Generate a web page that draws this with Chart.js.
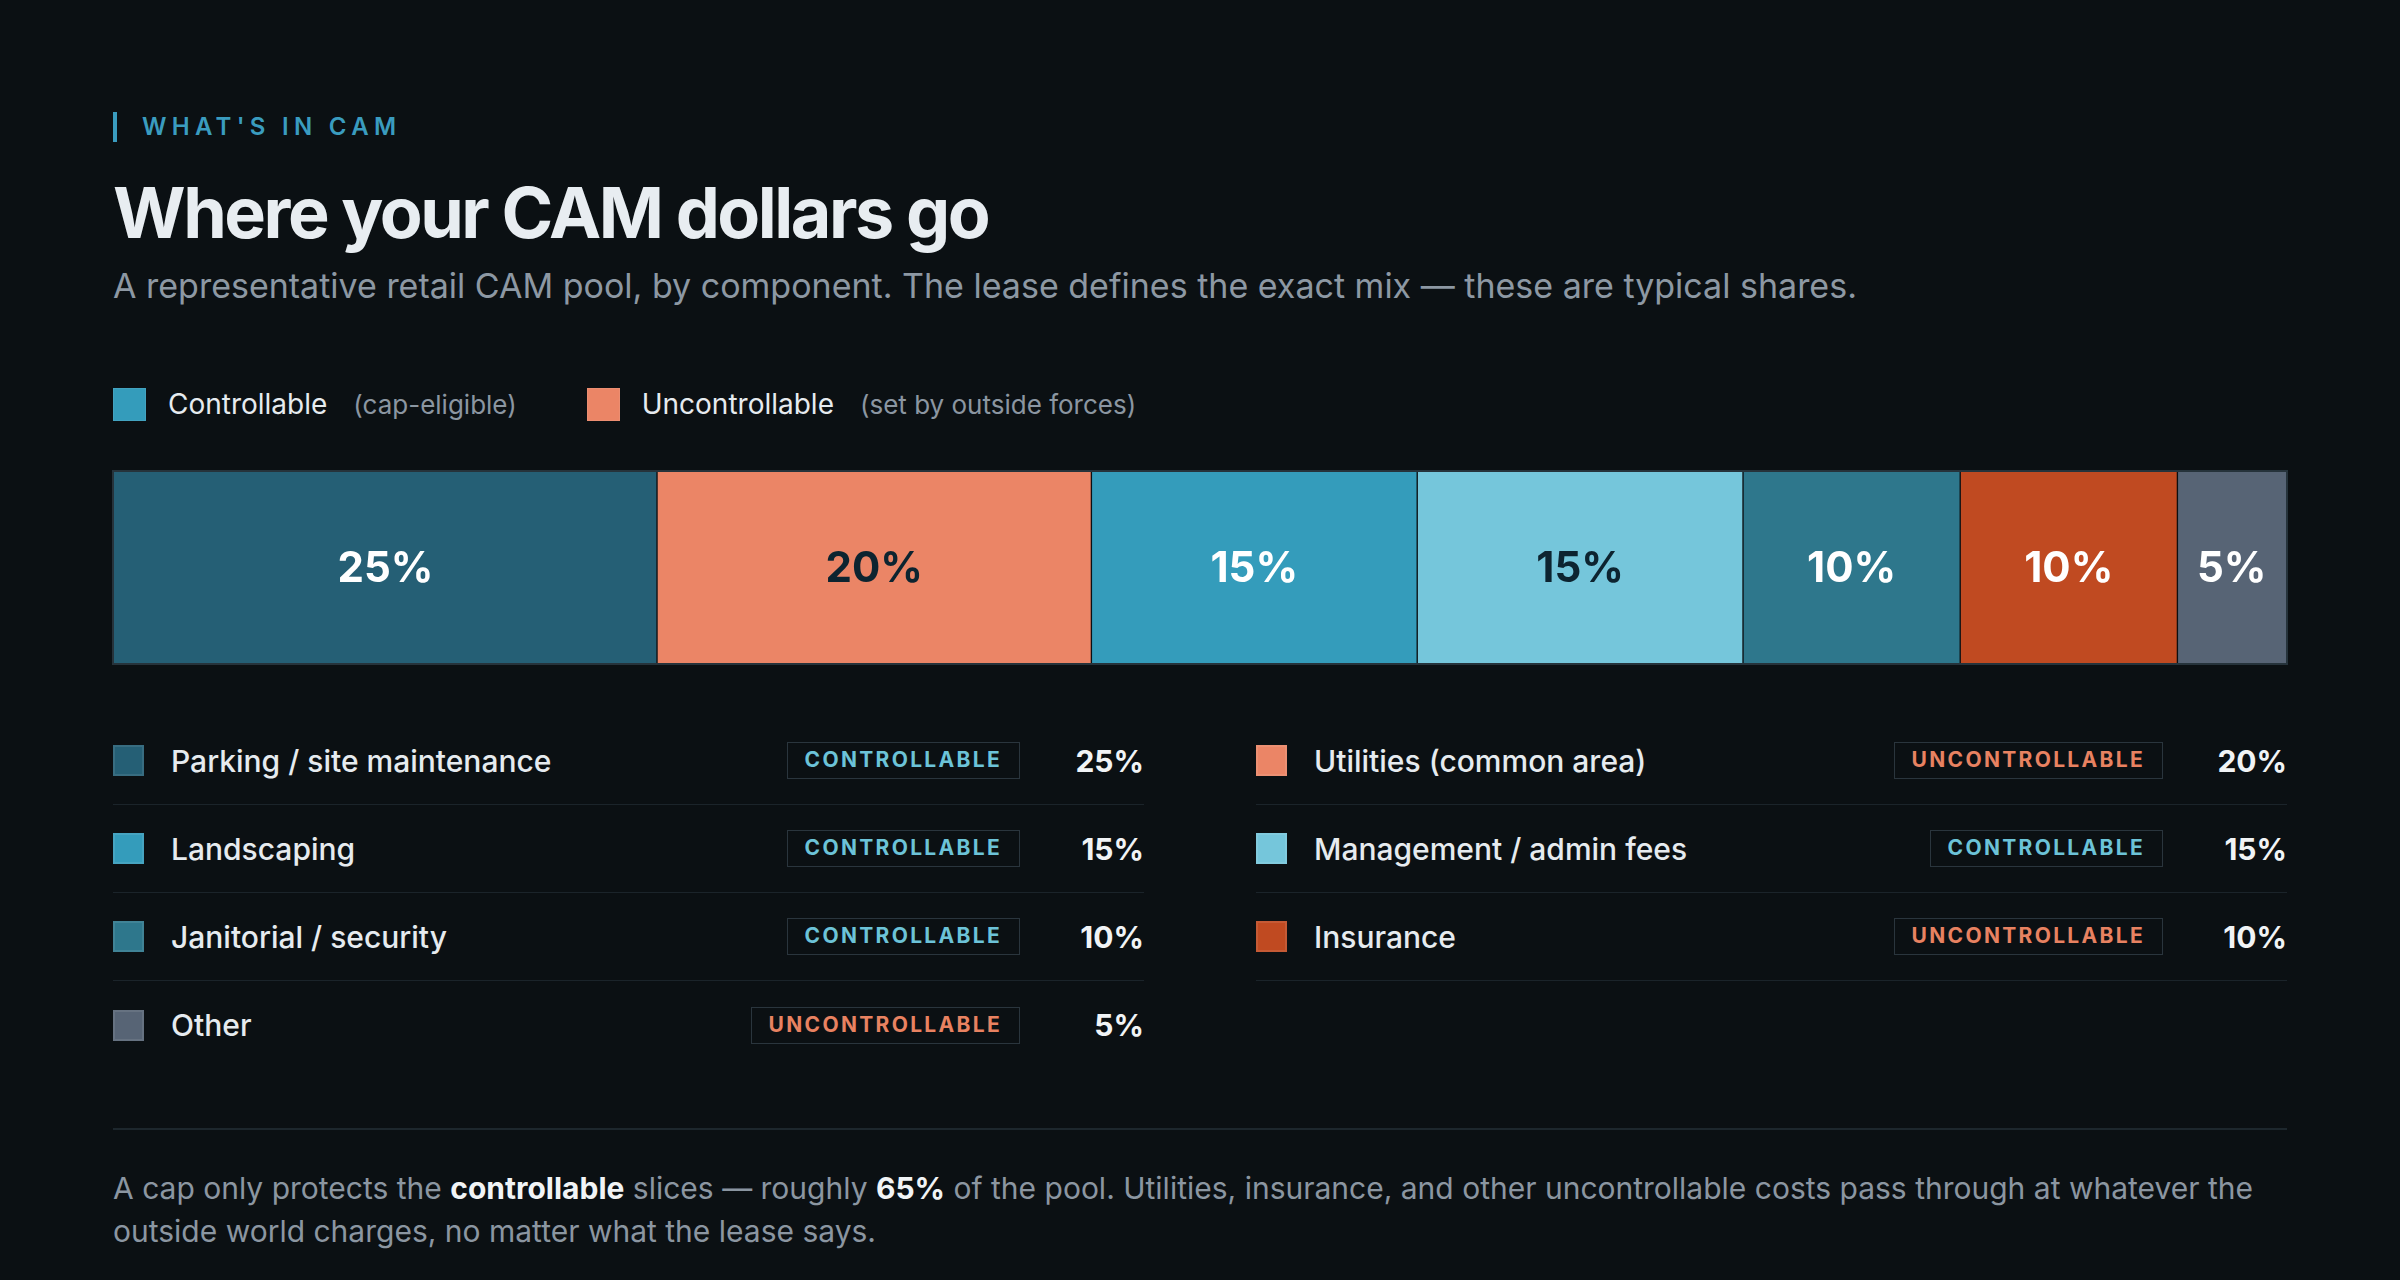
<!DOCTYPE html>
<html>
<head>
<meta charset="utf-8">
<script src="https://cdn.jsdelivr.net/npm/chart.js@4.4.1/dist/chart.umd.min.js"></script>
<style>
  html, body { margin: 0; padding: 0; }
  body {
    width: 2400px; height: 1280px; overflow: hidden;
    background: #0b1013;
    font-family: Inter, "Noto Sans", sans-serif;
    color: #e8edf1;
    position: relative;
  }
  .abs { position: absolute; left: 113px; }
  .eyebrow {
    top: 112px; height: 30px; line-height: 30px;
    border-left: 4px solid #3a9cbf; padding-left: 25px;
    font-size: 24px; font-weight: 600; letter-spacing: 0.22em;
    color: #3a9cbf; left: 113px;
  }
  h1 {
    margin: 0; top: 173px; line-height: 80px;
    font-size: 70px; font-weight: 700; letter-spacing: -0.035em; color: #e8edf1;
  }
  .sub { top: 266px; line-height: 40px; font-size: 34px; color: #8d98a3; }
  .legend { top: 384px; height: 40px; display: flex; align-items: center; }
  .legend .item { display: flex; align-items: center; margin-right: 70px; }
  .legend .sw { width: 33px; height: 33px; box-sizing: border-box; border: 1.5px solid rgba(255,255,255,0.08); margin-right: 22px; }
  .legend .lab { font-size: 28px; color: #e6ebef; margin-right: 26px; }
  .legend .cap { font-size: 26px; color: #8b96a1; }
  .barbox {
    position: absolute; left: 112px; top: 470px; width: 2176px; height: 195px;
    box-sizing: border-box; border: 2px solid #26333b;
  }
  .grid {
    top: 717px; width: 2174px;
    display: grid; grid-template-columns: 1fr 1fr; column-gap: 112px;
  }
  .row {
    height: 88px; box-sizing: border-box; border-bottom: 1.5px solid #1b242a;
    display: flex; align-items: center;
  }
  .row.last { border-bottom: none; }
  .row .sw { width: 31px; height: 31px; box-sizing: border-box; border: 2px solid rgba(255,255,255,0.09); margin-right: 27px; flex: none; }
  .row .name { font-size: 30px; font-weight: 500; color: #e6ebef; white-space: nowrap; }
  .row .badge {
    margin-left: auto;
    height: 37px; line-height: 34px; box-sizing: border-box; padding: 0 17px;
    border: 1.5px solid #2a353d; font-size: 21px; font-weight: 700; letter-spacing: 0.11em;
  }
  .badge.controllable { color: #6cc3d8; }
  .badge.uncontrollable { color: #e88261; }
  .row .pct { width: 124px; text-align: right; font-size: 30px; font-weight: 700; color: #f1f4f6; }
  .rule { position: absolute; left: 113px; top: 1128px; width: 2174px; height: 1.5px; background: #1d272d; }
  .foot { top: 1167px; width: 2174px; line-height: 43px; font-size: 30px; color: #8b96a1; white-space: nowrap; }
  .foot b { color: #f1f4f6; font-weight: 700; }
</style>
</head>
<body>

<div class="abs eyebrow">WHAT'S IN CAM</div>
<h1 class="abs">Where your CAM dollars go</h1>
<div class="abs sub">A representative retail CAM pool, by component. The lease defines the exact mix — these are typical shares.</div>

<div class="abs legend">
  <div class="item"><div class="sw" style="background:#349cbb"></div><span class="lab">Controllable</span><span class="cap">(cap-eligible)</span></div>
  <div class="item"><div class="sw" style="background:#eb8566"></div><span class="lab">Uncontrollable</span><span class="cap">(set by outside forces)</span></div>
</div>

<div class="barbox"><canvas id="cam-chart"></canvas></div>

<div class="abs grid" id="cam-table"></div>

<div class="rule"></div>
<div class="abs foot"><span>A cap only protects the </span><b>controllable</b><span> slices — roughly </span><b>65%</b><span> of the pool. Utilities, insurance, and other uncontrollable costs pass through at whatever the</span><br><span>outside world charges, no matter what the lease says.</span></div>

<script>
// ─── Data ───────────────────────────────────────────────────

const CATEGORIES = [
  'Parking / site maintenance',
  'Utilities (common area)',
  'Landscaping',
  'Management / admin fees',
  'Janitorial / security',
  'Insurance',
  'Other',
];
const SHARES = [25, 20, 15, 15, 10, 10, 5];
const KINDS = ['controllable', 'uncontrollable', 'controllable', 'controllable', 'controllable', 'uncontrollable', 'uncontrollable'];
const COLORS = ['#255f75', '#eb8566', '#349cbb', '#75c6db', '#2e778c', '#c04a21', '#576475'];
const LABEL_COLORS = ['#ffffff', '#0d2430', '#ffffff', '#0d2430', '#ffffff', '#ffffff', '#ffffff'];

// ─── Segment labels ─────────────────────────────────────────

const segmentLabels = {
  id: 'segmentLabels',
  afterDatasetsDraw(chart) {
    const { ctx } = chart;
    ctx.save();
    ctx.font = '700 42px Inter, sans-serif';
    ctx.textAlign = 'center';
    ctx.textBaseline = 'middle';
    chart.data.datasets.forEach((ds, i) => {
      const bar = chart.getDatasetMeta(i).data[0];
      if (!bar) return;
      ctx.fillStyle = LABEL_COLORS[i];
      ctx.fillText(ds.data[0] + '%', (bar.x + bar.base) / 2, bar.y + 2);
    });
    ctx.restore();
  },
};

// ─── Stacked bar ────────────────────────────────────────────

function renderBar() {
  const last = SHARES.length - 1;
  const datasets = CATEGORIES.map((name, i) => ({
    label: name,
    data: [SHARES[i]],
    backgroundColor: COLORS[i],
    borderColor: '#0c1114',
    borderWidth: { left: i === 0 ? 0 : 1, right: i === last ? 0 : 1, top: 0, bottom: 0 },
    borderSkipped: false,
    barPercentage: 1,
    categoryPercentage: 1,
  }));

  new Chart(document.getElementById('cam-chart'), {
    type: 'bar',
    data: { labels: ['CAM pool'], datasets },
    plugins: [segmentLabels],
    options: {
      indexAxis: 'y',
      responsive: true,
      maintainAspectRatio: false,
      animation: false,
      layout: { padding: 0 },
      plugins: { legend: { display: false }, tooltip: { enabled: false } },
      scales: {
        x: { stacked: true, min: 0, max: 100, display: false },
        y: { stacked: true, display: false },
      },
    },
  });
}

// ─── Breakdown table ────────────────────────────────────────

function renderTable() {
  const table = document.getElementById('cam-table');
  table.innerHTML = CATEGORIES.map((name, i) => `
    <div class="row${i === CATEGORIES.length - 1 ? ' last' : ''}">
      <div class="sw" style="background:${COLORS[i]}"></div>
      <div class="name">${name}</div>
      <div class="badge ${KINDS[i]}">${KINDS[i].toUpperCase()}</div>
      <div class="pct">${SHARES[i]}%</div>
    </div>`).join('');
}

renderBar();
renderTable();
</script>
</body>
</html>
